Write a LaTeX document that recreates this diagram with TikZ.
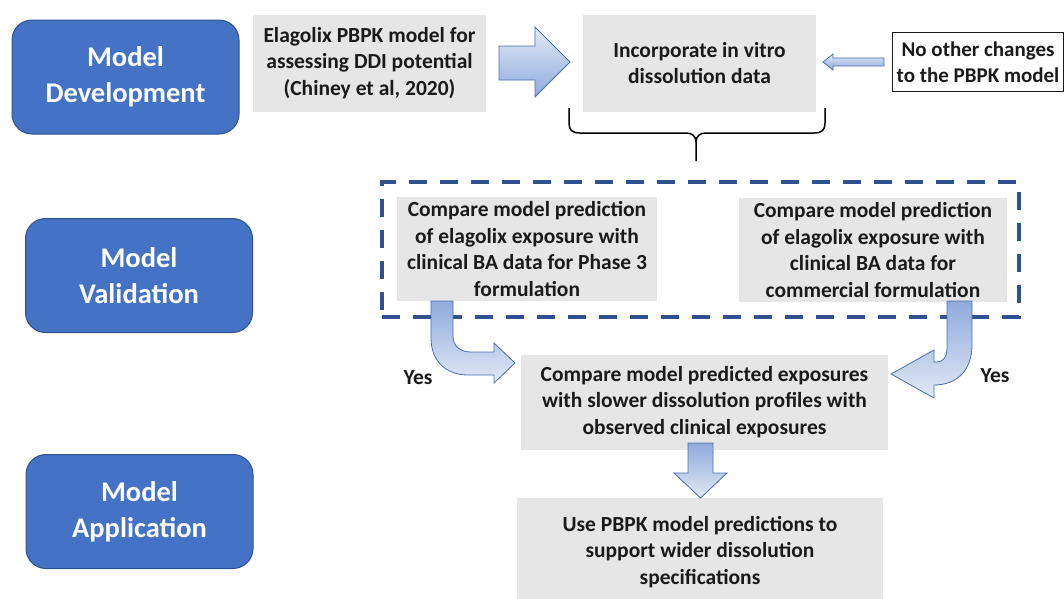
\documentclass[tikz,border=0pt]{standalone}
\usepackage{fontspec}
\setmainfont{Carlito}
\usetikzlibrary{calc}
\definecolor{bluebox}{HTML}{4472C4}
\definecolor{blueedge}{HTML}{2F528F}
\definecolor{greybox}{HTML}{E7E6E6}
\definecolor{dashblue}{HTML}{2F528F}
\definecolor{arrowedge}{HTML}{4A6FB0}
\definecolor{arrowdark}{HTML}{8FAADC}
\definecolor{arrowlight}{HTML}{E2E9F6}
\definecolor{txt}{HTML}{1A1A1A}
\begin{document}
\begin{tikzpicture}[x=1pt,y=-1pt,
  phase/.style={rounded corners=20pt, fill=bluebox, draw=blueedge, line width=1pt,
    text=white, font=\fontsize{28.5}{36}\selectfont\bfseries, align=center, inner sep=0pt,
    minimum width=227pt, minimum height=114pt},
  greyb/.style={fill=greybox, text=txt, font=\fontsize{21.5}{26.5}\selectfont\bfseries,
    align=center, inner sep=0pt},
  plainb/.style={fill=white, draw=txt, line width=0.8pt, text=txt,
    font=\fontsize{21}{25.5}\selectfont\bfseries, align=center, inner sep=0pt},
  lbl/.style={text=txt, font=\fontsize{21.5}{26.5}\selectfont\bfseries, inner sep=0pt},
  blockarrow/.style={draw=arrowedge, line width=0.8pt},
  bentarrow/.style={draw=arrowedge, line width=0.8pt, top color=arrowdark, bottom color=arrowlight},
  dashframe/.style={draw=dashblue, line width=4pt, dash pattern=on 18pt off 13pt, inner sep=0pt},
  bracepath/.style={draw=black, line width=1.5pt}
]
\useasboundingbox (0,0) rectangle (1064,598);

% phase boxes
\node[phase] (dev) at (125.5,77) {Model\\Development};
\node[phase] (valid) at (139,275.5) {Model\\Validation};
\node[phase] (appl) at (139.5,511.5) {Model\\Application};

% top row
\node[greyb, minimum width=233pt, minimum height=97pt] (g1) at (369.5,63)
  {Elagolix PBPK model for\\assessing DDI potential\\(Chiney et al, 2020)};
\node[greyb, minimum width=233pt, minimum height=97pt] (g2) at (699.5,63)
  {Incorporate in vitro\\dissolution data};
\node[plainb, minimum width=171pt, minimum height=59pt] (nochg) at (978,62)
  {No other changes\\to the PBPK model};

% validation frame
\node[dashframe, minimum width=637pt, minimum height=135pt] (frame) at (700.5,249.5) {};
\node[greyb, minimum width=260pt, minimum height=104pt] (p3) at (527,249)
  {Compare model prediction\\of elagolix exposure with\\clinical BA data for Phase 3\\formulation};
\node[greyb, minimum width=268pt, minimum height=104pt] (com) at (873,250)
  {Compare model prediction\\of elagolix exposure with\\clinical BA data for\\commercial formulation};

% application
\node[greyb, minimum width=367pt, minimum height=95pt] (cmp) at (704.5,402)
  {Compare model predicted exposures\\with slower dissolution profiles with\\observed clinical exposures};
\node[greyb, minimum width=366pt, minimum height=108pt] (use) at (700,552)
  {Use PBPK model predictions to\\support wider dissolution\\specifications};

% straight block arrows
\path[blockarrow, top color=arrowlight, bottom color=arrowdark]
  (499,46) -- (535,46) -- (535,27) -- (570,62) -- (535,97) -- (535,80) -- (499,80) -- cycle;
\path[blockarrow, top color=arrowlight, bottom color=arrowdark]
  (884,58) -- (833,58) -- (833,54) -- (823,62) -- (833,70) -- (833,66) -- (884,66) -- cycle;
\path[blockarrow, top color=arrowdark, bottom color=arrowlight]
  (688,443) -- (713,443) -- (713,473) -- (727,473) -- (700.5,498) -- (674,473) -- (688,473) -- cycle;

% bent arrows
\path[bentarrow] (431,301) -- (431,338) .. controls (431,361) and (446,375) .. (468,375)
  -- (494,375) -- (494,383) -- (515,363) -- (494,343) -- (494,352) -- (471,352)
  .. controls (460,352) and (453,346) .. (453,336) -- (453,301) -- cycle;
\path[bentarrow] (972,301) -- (972,345) .. controls (972,369) and (958,385) .. (934,385)
  -- (934,398) -- (891,374) -- (934,350) -- (934,362) -- (937,362)
  .. controls (943,362) and (947,357) .. (947,348) -- (947,301) -- cycle;

% brace
\coordinate (bl) at (569,108);
\coordinate (br) at (825,108);
\coordinate (bt) at (696,161);
\path[bracepath] (bl) -- (569,123) .. controls (569,130) and (572,133) .. (580,133)
  -- (686,133) .. controls (692,133) and (696,136) .. (696,142) -- (bt);
\path[bracepath] (br) -- (825,123) .. controls (825,130) and (822,133) .. (814,133)
  -- (706,133) .. controls (700,133) and (696,136) .. (696,142);

% labels
\node[lbl] (yes1) at (418,378) {Yes};
\node[lbl] (yes2) at (995,376) {Yes};
\end{tikzpicture}
\end{document}
